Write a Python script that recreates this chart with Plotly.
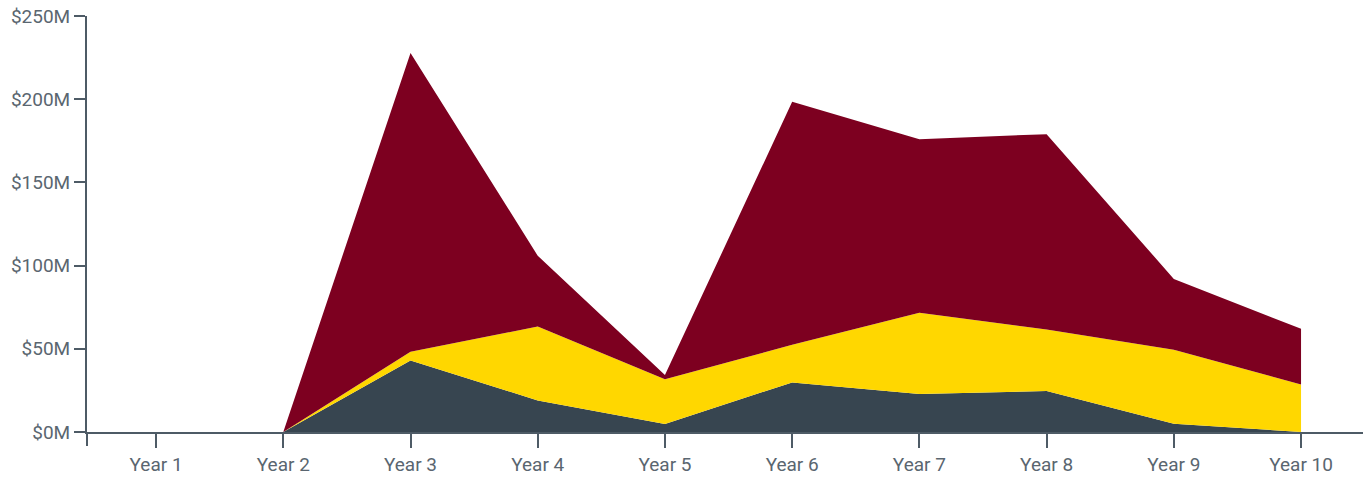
import plotly.graph_objects as go

years = ["Year 1", "Year 2", "Year 3", "Year 4", "Year 5", "Year 6", "Year 7", "Year 8", "Year 9", "Year 10"]
series_a = [0, 0, 43.0, 19.0, 4.8, 29.8, 22.8, 24.6, 5.0, 0.0]
series_b = [0, 0, 5.2, 44.4, 26.9, 22.6, 48.9, 37.0, 44.5, 28.6]
series_c = [0, 0, 179.6, 42.5, 2.5, 146.0, 104.3, 117.4, 42.5, 33.4]
y_ticks = [0, 50, 100, 150, 200, 250]
y_tick_labels = ["$0M", "$50M", "$100M", "$150M", "$200M", "$250M"]

colors = ["#374550", "#FFD700", "#7D0020"]
names = ["Series A", "Series B", "Series C"]

fig = go.Figure()
for vals, col, nm in zip([series_a, series_b, series_c], colors, names):
    fig.add_trace(go.Scatter(
        x=years, y=vals, name=nm, mode="lines", stackgroup="one",
        line=dict(width=0, color=col), fillcolor=col,
    ))

axis_col = "#4E5B66"
font_fam = "Roboto, sans-serif"
label_col = "#5A6670"
fig.update_layout(
    width=1363, height=479,
    margin=dict(l=87, r=0, t=16, b=47),
    plot_bgcolor="white", paper_bgcolor="white",
    showlegend=False,
    font=dict(family=font_fam, size=19, color=label_col),
)
fig.update_xaxes(
    type="category", range=[-0.543, 9.487],
    showgrid=False, zeroline=False,
    showline=True, linecolor=axis_col, linewidth=2,
    ticks="outside", ticklen=14, tickwidth=2, tickcolor=axis_col,
    tickfont=dict(family=font_fam, size=19, color=label_col),
)
fig.update_yaxes(
    range=[0, 250], tickvals=y_ticks, ticktext=y_tick_labels,
    showgrid=False, zeroline=False,
    showline=True, linecolor=axis_col, linewidth=2,
    ticks="outside", ticklen=11, tickwidth=2, tickcolor=axis_col,
    tickfont=dict(family=font_fam, size=19, color=label_col),
)
# y-axis line continues below the x-axis
fig.add_shape(type="line", xref="paper", yref="paper", x0=0, x1=0, y0=0, y1=-14/416,
              line=dict(color=axis_col, width=2))

fig.write_html("out.html", config={"displayModeBar": False},
               post_script="document.body.style.margin='0';document.body.style.overflow='hidden';")
